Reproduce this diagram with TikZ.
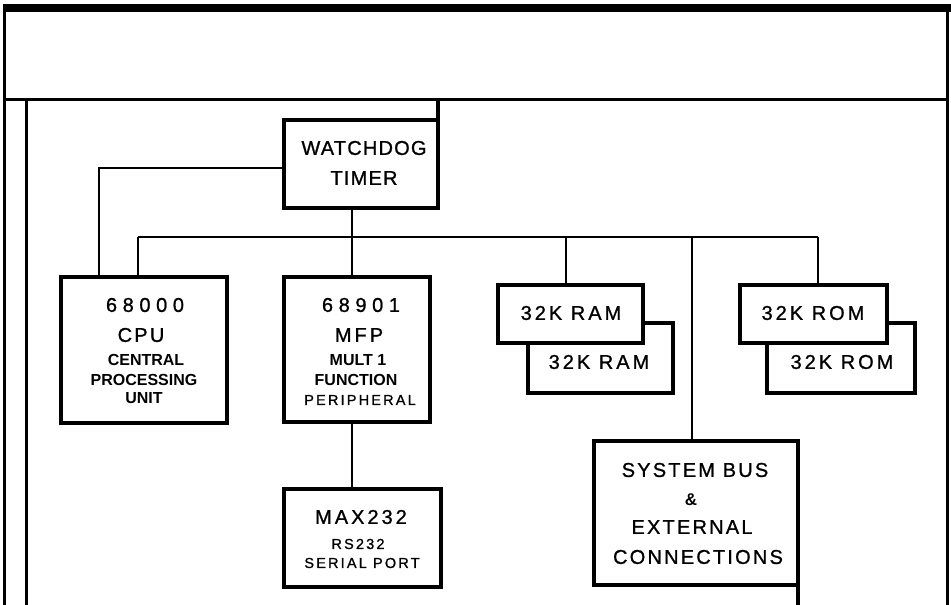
\documentclass[tikz,border=0pt]{standalone}
\usepackage{fontspec}
\setmainfont{Liberation Sans}
\newfontfamily\plotfont{Liberation Sans}[LetterSpace=6,FakeBold=1]
\newfontfamily\wideplot{Liberation Sans}[LetterSpace=15,FakeBold=1]
\newfontfamily\spacedfont{Liberation Sans}[LetterSpace=11,FakeBold=1]
\newfontfamily\digitfont{Liberation Sans}[LetterSpace=28,FakeBold=1]
\usetikzlibrary{calc}
\tikzset{
  box/.style={draw, line width=3.2pt, fill=white, inner sep=0pt, outer sep=0pt},
  edgeline/.style={line width=3.2pt},
  wire/.style={line width=1.3pt},
  frameline/.style={line width=3pt},
  lbl/.style={inner sep=0pt, anchor=center},
  bigplot/.style={lbl, font=\plotfont\fontsize{20}{24}\selectfont},
  wideplotlbl/.style={lbl, font=\wideplot\fontsize{20}{24}\selectfont},
  smallplot/.style={lbl, font=\wideplot\fontsize{14.5}{17}\selectfont},
  digits/.style={lbl, font=\digitfont\fontsize{20}{24}\selectfont},
  plainbig/.style={lbl, font=\spacedfont\fontsize{20}{24}\selectfont},
  boldsmall/.style={lbl, font=\fontsize{16}{19}\selectfont\bfseries},
  spacedbig/.style={lbl, font=\spacedfont\fontsize{20}{24}\selectfont},
}
\begin{document}
\begin{tikzpicture}[x=1pt,y=-1pt]
\useasboundingbox (0,0) rectangle (951,605);
% frame
\fill (3,4) rectangle (951,12);
\draw[frameline] (3,99) -- (948,99);
\draw[frameline] (4.5,4) -- (4.5,605);
\draw[frameline] (26,99) -- (26,605);
\draw[frameline] (947,4) -- (947,605);

% boxes
\node[box, minimum width=154pt, minimum height=88pt] (wd) at (361,164) {};
\node[box, minimum width=166pt, minimum height=146pt] (cpu) at (144,350) {};
\node[box, minimum width=146pt, minimum height=145pt] (mfp) at (357,349.5) {};
\node[box, minimum width=157pt, minimum height=98pt] (max) at (362.5,538) {};
\node[box, minimum width=145pt, minimum height=70pt] (ram2) at (600.5,358) {};
\node[box, minimum width=145pt, minimum height=58pt] (ram1) at (570.5,314) {};
\node[box, minimum width=148pt, minimum height=70pt] (rom2) at (841,358) {};
\node[box, minimum width=147pt, minimum height=58pt] (rom1) at (813.5,314) {};
\node[box, minimum width=204pt, minimum height=144pt] (sys) at (696,513) {};

% extensions of box edges
\coordinate (wdtop) at (438,99);
\draw[edgeline] (wdtop) -- (wd.north east);
\coordinate (sysbot) at (798,605);
\draw[edgeline] (sys.south east) -- (sysbot);

% connectors
\coordinate (busL) at (138,237);
\coordinate (busR) at (818,237);
\coordinate (bRam) at (566,237);
\coordinate (bSys) at (692,237);
\draw[wire] (busL) -- (busR);
\draw[wire] (busL) -- (busL |- cpu.north);
\draw[wire] ([yshift=-4pt]wd.west) -| ([xshift=-45pt]cpu.north);
\draw[wire] ([xshift=-9pt]wd.south) -- ([xshift=-5pt]mfp.north);
\draw[wire] ([xshift=-5pt]mfp.south) -- ([xshift=-10.5pt]max.north);
\draw[wire] (bRam) -- (bRam |- ram1.north);
\draw[wire] (bSys) -- (bSys |- sys.north);
\draw[wire] (busR) -- (busR |- rom1.north);

% texts
\node[bigplot] (wdt1) at (364,148) {WATCHDOG};
\node[bigplot] (wdt2) at (364,178) {TIMER};

\node[digits] (cput1) at (145,305) {68000};
\node[plainbig] (cput2) at (141,335) {CPU};
\node[boldsmall] (cput3) at (146,360) {CENTRAL};
\node[boldsmall] (cput4) at (144,380) {PROCESSING};
\node[boldsmall] (cput5) at (144,398) {UNIT};

\node[digits] (mfpt1) at (361,305) {68901};
\node[wideplotlbl] (mfpt2) at (359,335) {MFP};
\node[boldsmall] (mfpt3) at (358,360) {MULT 1};
\node[boldsmall] (mfpt4) at (356,380) {FUNCTION};
\node[smallplot] (mfpt5) at (360,400) {PERIPHERAL};

\node[wideplotlbl] (ram1t) at (571,313) {32K RAM};
\node[wideplotlbl] (ram2t) at (599,362) {32K RAM};
\node[wideplotlbl] (rom1t) at (813,313) {32K ROM};
\node[wideplotlbl] (rom2t) at (842,362) {32K ROM};

\node[wideplotlbl] (maxt1) at (361,517) {MAX232};
\node[smallplot] (maxt2) at (358,544) {RS232};
\node[smallplot] (maxt3) at (362,563) {SERIAL PORT};

\node[spacedbig] (syst1) at (695,470) {SYSTEM BUS};
\node[lbl, font=\fontsize{17}{20}\selectfont\bfseries] (syst2) at (691,500) {\&};
\node[spacedbig] (syst3) at (692,527) {EXTERNAL};
\node[spacedbig] (syst4) at (698,557) {CONNECTIONS};
\end{tikzpicture}
\end{document}
